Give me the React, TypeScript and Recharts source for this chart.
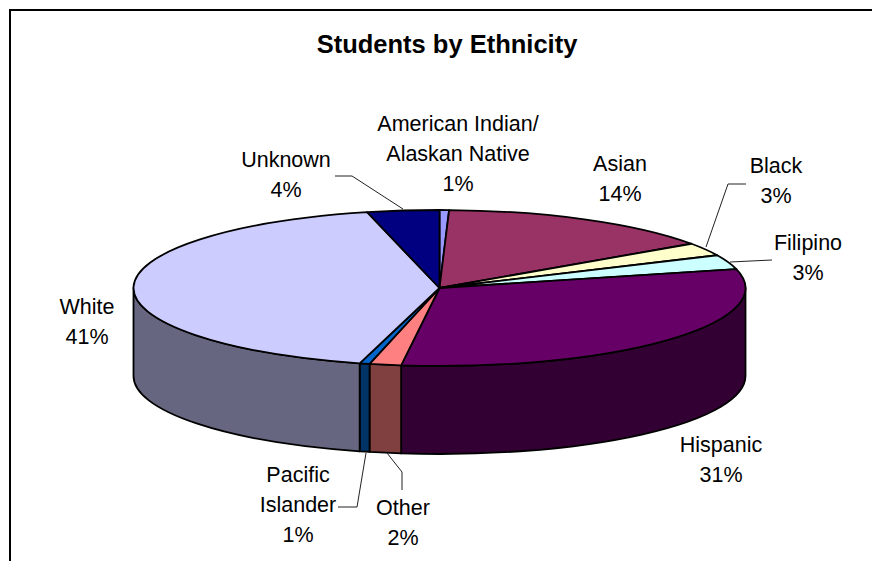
import React from "react";
import { PieChart, Pie } from "recharts";

const categories = ["American Indian/ Alaskan Native", "Asian", "Black", "Filipino", "Hispanic", "Other", "Pacific Islander", "White", "Unknown"];
const values = [0.5, 14.9, 2.7, 3.0, 30.9, 1.67, 0.53, 42.0, 3.8];
const percentLabels = ["1%", "14%", "3%", "3%", "31%", "2%", "1%", "41%", "4%"];
const topColors = ["#9999FF", "#993366", "#FFFFCC", "#CCFFFF", "#660066", "#FF8080", "#0066CC", "#CCCCFF", "#000080"];
const sideColors = ["#4C4C80", "#4D1A33", "#808066", "#668080", "#330033", "#804040", "#003366", "#666680", "#000040"];
const labelLines = [
  ["American Indian/", "Alaskan Native"],
  ["Asian"],
  ["Black"],
  ["Filipino"],
  ["Hispanic"],
  ["Other"],
  ["Pacific", "Islander"],
  ["White"],
  ["Unknown"],
];

const data = categories.map((name, i) => ({ name, value: values[i], top: topColors[i], side: sideColors[i] }));

// layout
const W = 872;
const H = 561;
const CX = 439.5;
const CY = 288;
const RX = 306;
const RY = 78;
const DEPTH = 88;
const FONT = "'Liberation Sans', Arial, sans-serif";
const labelPos: [number, number][] = [
  [458, 124],
  [620, 164],
  [776, 166],
  [808, 243],
  [721, 445],
  [403, 508],
  [298, 475],
  [87, 307],
  [286, 160],
];
const leaders: (string | null)[] = [
  null,
  null,
  "M746 184 L728 184 L706 247",
  "M772 260 L730 262",
  null,
  "M387 453 L402 472 L402 490",
  "M338 507 L357 507 L366 453",
  null,
  "M335 176 L352 176 L403 209",
];

const pt = (cx: number, cy: number, ry: number, rx: number, c: number) => {
  const a = (c * Math.PI) / 180;
  return [cx + rx * Math.sin(a), cy - ry * Math.cos(a)];
};

const TopFace = (p: any) => {
  const a0 = 90 - p.startAngle;
  const a1 = 90 - p.endAngle;
  const ry = (p.outerRadius * RY) / RX;
  const [x0, y0] = pt(p.cx, p.cy, ry, p.outerRadius, a0);
  const [x1, y1] = pt(p.cx, p.cy, ry, p.outerRadius, a1);
  const large = a1 - a0 > 180 ? 1 : 0;
  return (
    <path
      d={`M${p.cx} ${p.cy} L${x0} ${y0} A${p.outerRadius} ${ry} 0 ${large} 1 ${x1} ${y1} Z`}
      fill={p.payload?.top ?? p.top}
      stroke="#000"
      strokeWidth={1.8}
      strokeLinejoin="round"
    />
  );
};

const SideWall = (p: any) => {
  const a0 = Math.max(90 - p.startAngle, 90);
  const a1 = Math.min(90 - p.endAngle, 270);
  if (a1 <= a0) return <g />;
  const ry = (p.outerRadius * RY) / RX;
  const [x0, y0] = pt(p.cx, p.cy, ry, p.outerRadius, a0);
  const [x1, y1] = pt(p.cx, p.cy, ry, p.outerRadius, a1);
  return (
    <path
      d={`M${x0} ${y0} A${p.outerRadius} ${ry} 0 0 1 ${x1} ${y1} L${x1} ${y1 + DEPTH} A${p.outerRadius} ${ry} 0 0 0 ${x0} ${y0 + DEPTH} Z`}
      fill={p.payload?.side ?? p.side}
      stroke="#000"
      strokeWidth={1.8}
      strokeLinejoin="round"
    />
  );
};

const SliceLabel = (p: any) => {
  const i = p.index as number;
  const [x, y] = labelPos[i];
  const lines = [...labelLines[i], percentLabels[i]];
  const leader = leaders[i];
  return (
    <g>
      {leader && <path d={leader} fill="none" stroke="#222" strokeWidth={1} />}
      {lines.map((t, k) => (
        <text
          key={k}
          x={x}
          y={y + k * 30}
          textAnchor="middle"
          dominantBaseline="central"
          fontFamily={FONT}
          fontSize={21.5}
          fill="#000"
        >
          {t}
        </text>
      ))}
    </g>
  );
};

export default function App() {
  return (
    <div style={{ position: "absolute", left: 0, top: 0, width: W, height: H, overflow: "hidden", background: "#fff" }}>
      <div
        style={{
          position: "absolute",
          left: 9,
          top: 9,
          right: 0,
          bottom: 0,
          borderTop: "2px solid #000",
          borderLeft: "2px solid #000",
        }}
      />
      <div style={{ position: "absolute", left: 0, top: 0 }}>
        <PieChart width={W} height={H} margin={{ top: 0, right: 0, bottom: 0, left: 0 }}>
          <text x={447} y={44} textAnchor="middle" dominantBaseline="central" fontFamily={FONT} fontSize={25.5} fontWeight="bold" fill="#000">
            Students by Ethnicity
          </text>
          <Pie
            data={data}
            dataKey="value"
            nameKey="name"
            cx={CX}
            cy={CY}
            innerRadius={0}
            outerRadius={RX}
            startAngle={90}
            endAngle={-270}
            isAnimationActive={false}
            shape={SideWall}
            label={false}
            labelLine={false}
          />
          <Pie
            data={data}
            dataKey="value"
            nameKey="name"
            cx={CX}
            cy={CY}
            innerRadius={0}
            outerRadius={RX}
            startAngle={90}
            endAngle={-270}
            isAnimationActive={false}
            shape={TopFace}
            label={SliceLabel}
            labelLine={false}
          />
        </PieChart>
      </div>
    </div>
  );
}
